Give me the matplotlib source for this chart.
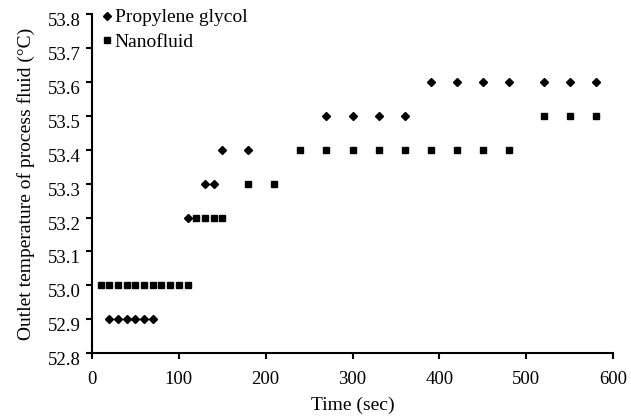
import matplotlib
matplotlib.use("Agg")
import matplotlib.pyplot as plt
import matplotlib.transforms as mtransforms

# Data
pg_time = [20, 30, 40, 50, 60, 70, 110, 130, 140, 150, 180,
           270, 300, 330, 360, 390, 420, 450, 480, 520, 550, 580]
pg_temp = [52.9, 52.9, 52.9, 52.9, 52.9, 52.9, 53.2, 53.3, 53.3, 53.4, 53.4,
           53.5, 53.5, 53.5, 53.5, 53.6, 53.6, 53.6, 53.6, 53.6, 53.6, 53.6]
nf_time = [10, 20, 30, 40, 50, 60, 70, 80, 90, 100, 110,
           120, 130, 140, 150, 180, 210,
           240, 270, 300, 330, 360, 390, 420, 450, 480, 520, 550, 580]
nf_temp = [53.0] * 11 + [53.2] * 4 + [53.3] * 2 + [53.4] * 9 + [53.5] * 3
x_ticks = [0, 100, 200, 300, 400, 500, 600]
y_ticks = [52.8, 52.9, 53.0, 53.1, 53.2, 53.3, 53.4, 53.5, 53.6, 53.7, 53.8]

plt.rcParams['font.family'] = ['Liberation Serif', 'DejaVu Serif']
fig = plt.figure(figsize=(6.31, 4.19), dpi=100)
ax = fig.add_axes([0.1458, 0.1575, 0.8257, 0.8084])

ax.plot(pg_time, pg_temp, linestyle='none', marker='D', markersize=4.2,
        color='black', label='Propylene glycol')
ax.plot(nf_time, nf_temp, linestyle='none', marker='s', markersize=4.9,
        color='black', label='Nanofluid')

ax.set_xlim(0, 600)
ax.set_ylim(52.8, 53.8)
ax.set_xticks(x_ticks)
ax.set_yticks(y_ticks)
ax.set_yticklabels([f"{v:.1f}" for v in y_ticks])
ax.spines['top'].set_visible(False)
ax.spines['right'].set_visible(False)
ax.spines['left'].set_linewidth(1.5)
ax.spines['bottom'].set_linewidth(1.5)
ax.tick_params(direction='out', length=4.3, width=1.5, labelsize=13.5)
ax.tick_params(axis='x', pad=9)
ax.tick_params(axis='y', pad=4)
ax.set_xlabel('Time (sec)', fontsize=14, labelpad=6)
ax.set_ylabel('Outlet temperature of process fluid (°C)', fontsize=14, labelpad=9)

offset = mtransforms.ScaledTranslation(0, -4 / 72, fig.dpi_scale_trans)
for lab in ax.get_yticklabels():
    lab.set_transform(lab.get_transform() + offset)

leg = ax.legend(loc='upper left', bbox_to_anchor=(0.0177, 1.016),
                frameon=False, fontsize=14,
                handlelength=0.6, handletextpad=0.1, borderpad=0.0,
                borderaxespad=0.0, labelspacing=0.35)

fig.savefig('out.png', dpi=100)
